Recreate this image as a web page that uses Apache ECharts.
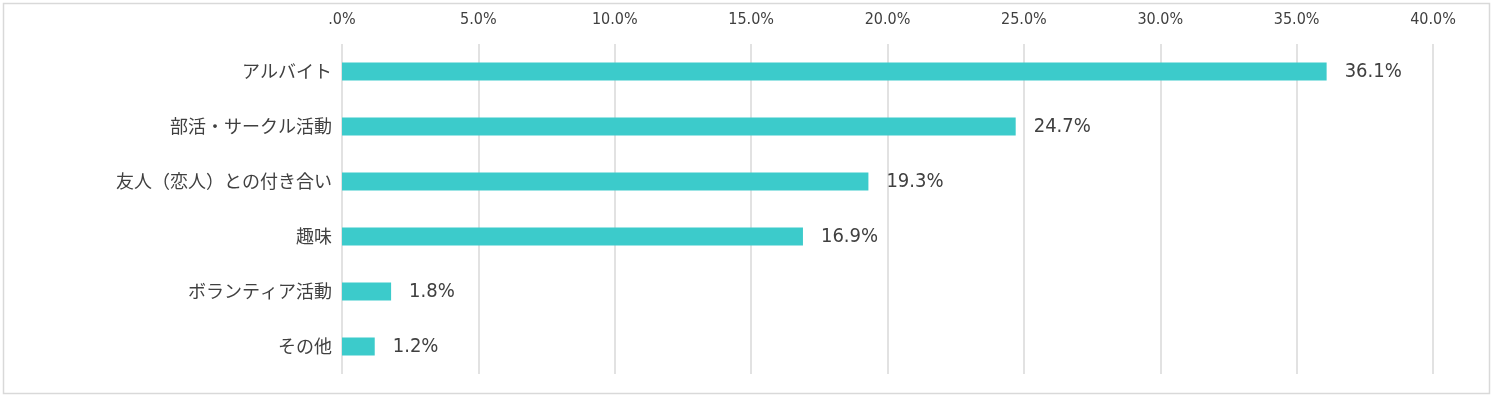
<!DOCTYPE html>
<html><head><meta charset="utf-8">
<script src="https://cdn.jsdelivr.net/npm/echarts@6/dist/echarts.min.js"></script>
<style>html,body{margin:0;padding:0;background:#fff}#c{width:1493px;height:398px}</style>
</head><body><div id="c"></div>
<script>
const categories = ['アルバイト','部活・サークル活動','友人（恋人）との付き合い','趣味','ボランティア活動','その他'];
const values = [36.1, 24.7, 19.3, 16.9, 1.8, 1.2];
const tickLabels = ['.0%','5.0%','10.0%','15.0%','20.0%','25.0%','30.0%','35.0%','40.0%'];

const chart = echarts.init(document.getElementById('c'));
const jfont = '"Noto Sans CJK JP", "Noto Sans", sans-serif';
const nfont = '"Liberation Sans Narrow", "DejaVu Sans Condensed", "Liberation Sans", sans-serif';
chart.setOption({
  animation: false,
  graphic: [{type:'rect', shape:{x:3.5,y:3.5,width:1486,height:390}, style:{fill:'none', stroke:'#d9d9d9', lineWidth:1.5}, silent:true}],
  grid: {left: 342, right: 60, top: 44, bottom: 24},
  xAxis: {
    type: 'value', position: 'top', min: 0, max: 40, interval: 5,
    axisLine: {show:false}, axisTick: {show:false},
    splitLine: {lineStyle: {color:'#d9d9d9', width:1.5}},
    axisLabel: {color:'#404040', fontSize:16, fontFamily: nfont, margin: 16,
      formatter: v => tickLabels[Math.round(v/5)]}
  },
  yAxis: {
    type: 'category', inverse: true, data: categories,
    axisLine: {show:false}, axisTick: {show:false},
    axisLabel: {color:'#404040', fontSize:18, fontFamily: jfont, margin: 10}
  },
  series: [{
    type: 'bar', data: values, barWidth: 18,
    itemStyle: {color:'#3CCBCB'},
    label: {show:true, position:'right', distance: 18, color:'#404040', fontSize:20, fontFamily: nfont,
      formatter: p => p.value.toFixed(1) + '%'}
  }]
});
</script></body></html>
